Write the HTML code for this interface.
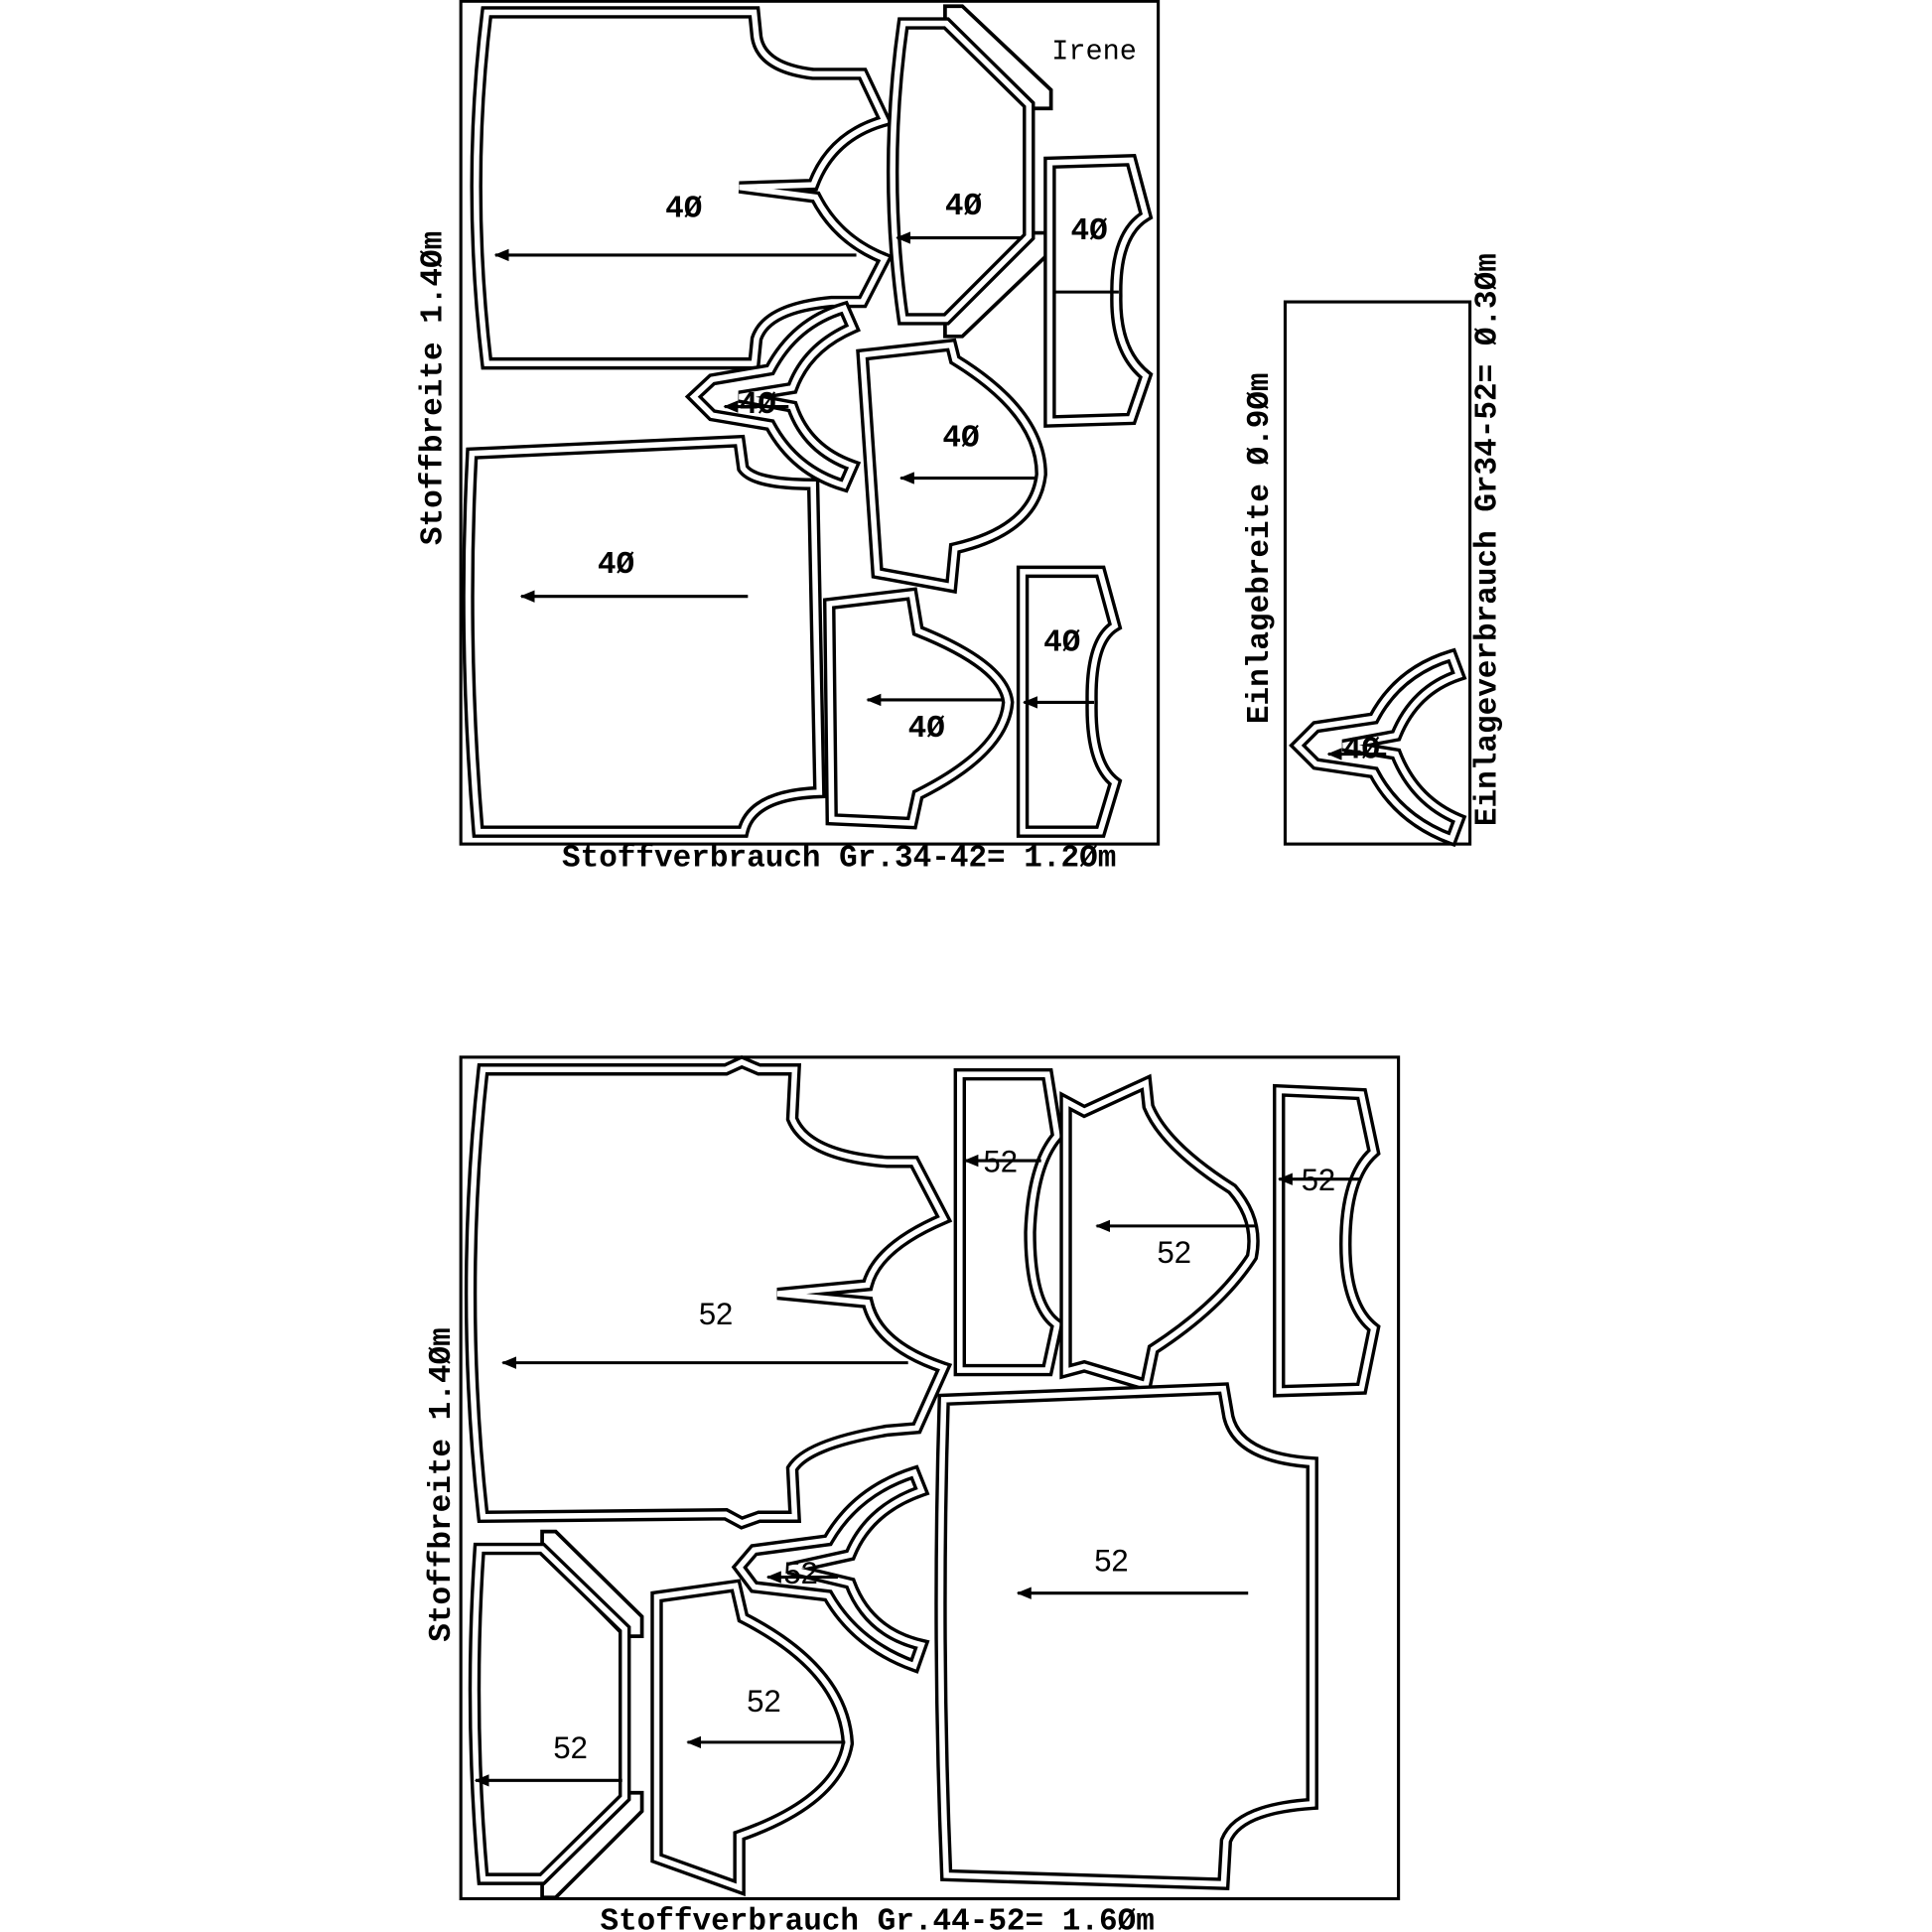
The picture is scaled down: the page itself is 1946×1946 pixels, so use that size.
<!DOCTYPE html>
<html><head><meta charset="utf-8"><style>
html,body{margin:0;padding:0;background:#fff}
svg{display:block}
.o{fill:none;stroke:#000;stroke-width:10;stroke-linejoin:miter}
.i{fill:none;stroke:#fff;stroke-width:4.5;stroke-linejoin:miter}
.b{fill:none;stroke:#000;stroke-width:2.5}
.band{fill:#fff;stroke:#000;stroke-width:3;stroke-linejoin:miter}
.l{stroke:#000;stroke-width:2.5;fill:none}
text{font-family:"Liberation Mono",monospace;font-weight:bold;fill:#000}
.t{font-size:25px}
.n{font-size:25px;font-family:"Liberation Sans",sans-serif;font-weight:normal}
</style></head><body>
<svg width="1946" height="1946" viewBox="0 0 1568 1568" xmlns="http://www.w3.org/2000/svg">
<defs>
<marker id="a" markerWidth="12" markerHeight="10" refX="11" refY="5" orient="auto" markerUnits="userSpaceOnUse"><path d="M0,0 L12,5 L0,10 Z" fill="#000"/></marker>
<path id="p1" d="M395,10 L612,10 L614,30 Q618,55 660,60 L700,60 L718,98 Q675,110 660,150 L600,152 L662,160 Q680,195 718,210 L700,245 L675,245 Q622,250 614,275 L612,295 L395,295 Q378,150 395,10 Z"/>
<path id="p2" d="M733,19 L768,19 L835,85 L835,192 L768,259 L733,259 Q716,140 733,19 Z"/>
<path id="p3" d="M852,132 L918,130 L930,175 Q905,190 906,240 Q905,285 930,305 L918,340 L852,342 Z"/>
<path id="p4" d="M563,322 L578,308 L625,300 Q645,262 685,250 L692,266 Q655,282 643,315 L600,322 L643,330 Q655,365 692,378 L685,394 Q645,382 625,345 L578,337 Z"/>
<path id="p5" d="M700,288 L772,280 L775,292 Q845,335 845,385 Q840,430 775,445 L772,476 L712,465 Z"/>
<path id="p6" d="M673,490 L740,482 L745,512 Q815,540 818,570 Q815,610 745,645 L740,668 L675,665 Z"/>
<path id="p7" d="M830,464 L893,464 L905,508 Q885,520 886,570 Q885,620 905,635 L893,675 L830,675 Z"/>
<path id="p8" d="M383,368 L600,358 L603,380 Q612,393 660,393 L665,643 Q610,645 603,675 L388,675 Q375,520 383,368 Z"/>
<path id="p9" d="M1053,605 L1068,590 L1115,583 Q1135,545 1178,532 L1184,548 Q1148,560 1133,597 L1090,605 L1133,612 Q1148,650 1184,665 L1178,681 Q1135,665 1115,627 L1068,620 Z"/>
<path id="q1" d="M392,868 L589,868 L602,862 L616,868 L645,868 L643,908 Q655,938 720,943 L742,943 L766,989 Q712,1012 704,1043 L631,1050 L704,1057 Q712,1092 766,1110 L744,1159 L720,1161 Q655,1172 643,1192 L645,1231 L616,1231 L602,1236 L589,1229 L392,1231 Q372,1050 392,868 Z"/>
<path id="q2" d="M779,872 L850,872 L858,922 Q838,945 836,1000 Q836,1060 858,1075 L850,1112 L779,1112 Z"/>
<path id="q3" d="M865,894 L880,902 L930,879 L932,898 Q945,930 1000,965 Q1022,990 1016,1020 Q990,1060 936,1095 L930,1124 L880,1109 L865,1113 Z"/>
<path id="q4" d="M1038,885 L1105,888 L1115,935 Q1092,955 1092,1010 Q1092,1060 1115,1078 L1105,1127 L1038,1129 Z"/>
<path id="q5" d="M766,1136 L993,1127 L997,1150 Q1005,1183 1065,1187 L1065,1464 Q1005,1468 995,1494 L993,1529 L768,1522 Q760,1330 766,1136 Z"/>
<path id="q6" d="M600,1272 L612,1258 L672,1250 Q695,1210 742,1195 L748,1210 Q705,1225 690,1262 L640,1273 L690,1285 Q705,1325 748,1335 L742,1352 Q695,1335 672,1295 L612,1288 Z"/>
<path id="q7" d="M389,1257 L440,1257 L507,1322 L507,1459 L440,1525 L392,1525 Q380,1390 389,1257 Z"/>
<path id="q8" d="M533,1296 L597,1287 L603,1313 Q685,1355 688,1415 Q680,1462 600,1490 L600,1532 L533,1508 Z"/>
</defs>
<polygon class="band" points="767,5 781,5 853,73 853,88 835,88 767,22"/>
<polygon class="band" points="835,189 853,189 853,204 781,273 767,273 767,256"/>
<polygon class="band" points="440,1243 451,1243 521,1312 521,1328 507,1328 440,1260"/>
<polygon class="band" points="507,1455 521,1455 521,1470 451,1540 440,1540 440,1522"/>
<g>
<use href="#p1" class="o"/><use href="#p1" class="i"/>
<use href="#p2" class="o"/><use href="#p2" class="i"/>
<use href="#p3" class="o"/><use href="#p3" class="i"/>
<use href="#p4" class="o"/><use href="#p4" class="i"/>
<use href="#p5" class="o"/><use href="#p5" class="i"/>
<use href="#p6" class="o"/><use href="#p6" class="i"/>
<use href="#p7" class="o"/><use href="#p7" class="i"/>
<use href="#p8" class="o"/><use href="#p8" class="i"/>
<use href="#p9" class="o"/><use href="#p9" class="i"/>
<use href="#q1" class="o"/><use href="#q1" class="i"/>
<use href="#q2" class="o"/><use href="#q2" class="i"/>
<use href="#q3" class="o"/><use href="#q3" class="i"/>
<use href="#q4" class="o"/><use href="#q4" class="i"/>
<use href="#q5" class="o"/><use href="#q5" class="i"/>
<use href="#q6" class="o"/><use href="#q6" class="i"/>
<use href="#q7" class="o"/><use href="#q7" class="i"/>
<use href="#q8" class="o"/><use href="#q8" class="i"/>
</g>
<rect x="374" y="1" width="566" height="684" class="b"/>
<rect x="1043" y="245" width="150" height="440" class="b"/>
<rect x="374" y="858" width="761" height="683" class="b"/>
<line x1="695" y1="207" x2="402" y2="207" class="l" marker-end="url(#a)"/>
<line x1="830" y1="193" x2="728" y2="193" class="l" marker-end="url(#a)"/>
<line x1="855" y1="237" x2="908" y2="237" class="l"/>
<line x1="640" y1="330" x2="588" y2="330" class="l" marker-end="url(#a)"/>
<line x1="840" y1="388" x2="731" y2="388" class="l" marker-end="url(#a)"/>
<line x1="815" y1="568" x2="704" y2="568" class="l" marker-end="url(#a)"/>
<line x1="888" y1="570" x2="831" y2="570" class="l" marker-end="url(#a)"/>
<line x1="607" y1="484" x2="423" y2="484" class="l" marker-end="url(#a)"/>
<line x1="1125" y1="612" x2="1078" y2="612" class="l" marker-end="url(#a)"/>
<line x1="737" y1="1106" x2="408" y2="1106" class="l" marker-end="url(#a)"/>
<line x1="845" y1="942" x2="783" y2="942" class="l" marker-end="url(#a)"/>
<line x1="1020" y1="995" x2="890" y2="995" class="l" marker-end="url(#a)"/>
<line x1="1105" y1="957" x2="1038" y2="957" class="l" marker-end="url(#a)"/>
<line x1="1013" y1="1293" x2="826" y2="1293" class="l" marker-end="url(#a)"/>
<line x1="680" y1="1280" x2="623" y2="1280" class="l" marker-end="url(#a)"/>
<line x1="505" y1="1445" x2="386" y2="1445" class="l" marker-end="url(#a)"/>
<line x1="686" y1="1414" x2="558" y2="1414" class="l" marker-end="url(#a)"/>
<text x="888" y="48" class="t" text-anchor="middle" style="font-weight:normal;font-size:23px">Irene</text>
<text x="555" y="176" class="t" text-anchor="middle">4Ø</text>
<text x="782" y="174" class="t" text-anchor="middle">4Ø</text>
<text x="884" y="194" class="t" text-anchor="middle">4Ø</text>
<text x="615" y="335" class="t" text-anchor="middle">4Ø</text>
<text x="780" y="362" class="t" text-anchor="middle">4Ø</text>
<text x="500" y="465" class="t" text-anchor="middle">4Ø</text>
<text x="862" y="528" class="t" text-anchor="middle">4Ø</text>
<text x="752" y="598" class="t" text-anchor="middle">4Ø</text>
<text x="1105" y="615" class="t" text-anchor="middle">4Ø</text>
<text x="581" y="1075" class="n" text-anchor="middle">52</text>
<text x="812" y="951" class="n" text-anchor="middle">52</text>
<text x="953" y="1025" class="n" text-anchor="middle">52</text>
<text x="1070" y="966" class="n" text-anchor="middle">52</text>
<text x="902" y="1275" class="n" text-anchor="middle">52</text>
<text x="650" y="1285" class="n" text-anchor="middle">52</text>
<text x="463" y="1427" class="n" text-anchor="middle">52</text>
<text x="620" y="1389" class="n" text-anchor="middle">52</text>
<text x="681" y="703" class="t" text-anchor="middle">Stoffverbrauch Gr.34-42= 1.2Øm</text>
<text x="712" y="1566" class="t" text-anchor="middle">Stoffverbrauch Gr.44-52= 1.6Øm</text>
<text class="t" text-anchor="middle" transform="translate(358,315) rotate(-90)">Stoffbreite 1.4Øm</text>
<text class="t" text-anchor="middle" transform="translate(365,1205) rotate(-90)">Stoffbreite 1.4Øm</text>
<text class="t" text-anchor="middle" transform="translate(1029,445) rotate(-90)">Einlagebreite Ø.9Øm</text>
<text class="t" text-anchor="middle" transform="translate(1214,438) rotate(-90)">Einlageverbrauch Gr34-52= Ø.3Øm</text>
</svg>
</body></html>
